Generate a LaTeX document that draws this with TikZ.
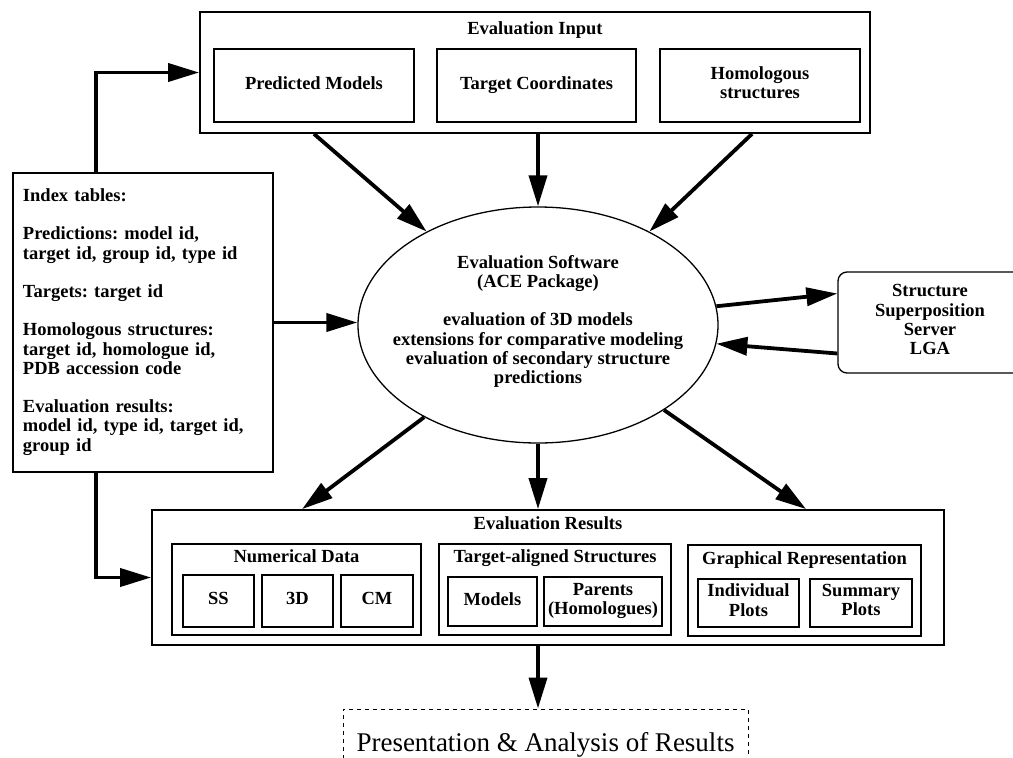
\documentclass[tikz,border=0pt]{standalone}
\usepackage{fontspec}
\setmainfont{Liberation Serif}
\usetikzlibrary{arrows.meta, shapes.geometric, calc}
\frenchspacing

\begin{document}
\begin{tikzpicture}[
    x=1pt, y=-1pt,
    txt/.style={font=\fontsize{18.5}{19.3}\selectfont\bfseries,
                execute at begin node=\strut, execute at end node=\strut},
    outer/.style={draw, line width=1.8pt, inner sep=0pt},
    group/.style={draw, line width=1.3pt, inner sep=0pt},
    box/.style={draw, line width=1.3pt, inner sep=0pt, align=center, txt},
    arrow/.style={-{Triangle[length=31pt, width=18pt]}, line width=3.8pt},
]
\useasboundingbox (0,0) rectangle (1013,758);
\clip (0,0) rectangle (1013,758);

% evaluation input
\node[outer, minimum width=670pt, minimum height=121pt] (inp) at (535,72.5) {};
\node[txt] (inptitle) at ([yshift=-20pt]inp.north) {Evaluation Input};
\node[box, minimum width=200pt, minimum height=73pt] (pm) at (314,85.5) {Predicted Models};
\node[box, minimum width=199pt, minimum height=73pt] (tc) at (536.5,85.5) {Target Coordinates};
\node[box, minimum width=200pt, minimum height=73pt] (hs) at (760,85.5) {Homologous\\structures};

% index tables
\node[outer, minimum width=260pt, minimum height=299pt, text width=240pt, align=left, txt]
    (idx) at (143,322.5) {Index tables:\\[19pt]
    Predictions: model id,\\ target id, group id, type id\\[19pt]
    Targets: target id\\[19pt]
    Homologous structures:\\ target id, homologue id,\\ PDB accession code\\[19pt]
    Evaluation results:\\ model id, type id, target id,\\ group id};

% evaluation software
\node[draw, ellipse, line width=1.3pt, minimum width=360pt, minimum height=236pt] (sw) at (538,325) {};
\node[txt, align=center] (swtext) at (538,322.5) {Evaluation Software\\ (ACE Package)\\[19pt]
    evaluation of 3D models\\ extensions for comparative modeling\\
    evaluation of secondary structure\\ predictions};

% superposition server
\node[box, rounded corners=9pt, minimum width=184pt, minimum height=101pt] (lga) at (930,322.5)
    {Structure\\Superposition\\Server\\LGA};

% evaluation results
\node[outer, minimum width=792pt, minimum height=135pt] (res) at (548,577.5) {};
\node[txt] (restitle) at ([yshift=-17pt]res.north) {Evaluation Results};

\node[group, minimum width=249pt, minimum height=91pt] (nd) at (296.5,589.5) {};
\node[txt] (ndtitle) at ([yshift=-15pt]nd.north) {Numerical Data};
\node[box, minimum width=71pt, minimum height=52pt] (ss) at (218.5,601) {SS};
\node[box, minimum width=71pt, minimum height=52pt] (d3) at (297.5,601) {3D};
\node[box, minimum width=72pt, minimum height=52pt] (cm) at (377,601) {CM};

\node[group, minimum width=232pt, minimum height=91pt] (ta) at (555,589.5) {};
\node[txt] (tatitle) at ([yshift=-15pt]ta.north) {Target-aligned Structures};
\node[box, minimum width=89pt, minimum height=49pt] (mo) at (492.5,601.5) {Models};
\node[box, minimum width=118pt, minimum height=49pt] (pa) at (603,601.5) {Parents\\(Homologues)};

\node[group, minimum width=233pt, minimum height=91pt] (gr) at (804.5,590.5) {};
\node[txt] (grtitle) at ([yshift=-16pt]gr.north) {Graphical Representation};
\node[box, minimum width=101pt, minimum height=48pt] (ip) at (748.5,603) {Individual\\Plots};
\node[box, minimum width=102pt, minimum height=48pt] (sp) at (861,603) {Summary\\Plots};

% presentation
\node[draw, dashed, line width=1pt, dash pattern=on 4pt off 4pt, minimum width=405pt, minimum height=72pt,
    font=\fontsize{27}{30}\selectfont] (pres) at (545.5,745) {Presentation \& Analysis of Results};

% inputs into the software
\draw[arrow] (pm.south |- inp.south) -- (sw.140);
\draw[arrow] (inp.south -| sw.north) -- (sw.north);
\draw[arrow] ([xshift=-8pt]hs.south |- inp.south) -- (sw.40);
\draw[arrow] (idx.east) -- (idx.east -| sw.west);

% index tables feed input and results
\draw[arrow] ([xshift=-47pt]idx.north) |- (inp.west);
\draw[arrow] ([xshift=-47pt]idx.south) |- (res.west);

% superposition round trip
\draw[arrow] (sw.6) -- ([yshift=29pt]lga.west);
\draw[arrow] ([yshift=-31pt]lga.west) -- (sw.354);

% software to results
\draw[arrow] (sw.219) -- ([xshift=151pt]res.north west);
\draw[arrow] (sw.south) -- (sw.south |- res.north);
\draw[arrow] (sw.326) -- ([xshift=655pt]res.north west);

% results to presentation
\draw[arrow] (res.south -| sw.south) -- (pres.north -| sw.south);

\end{tikzpicture}
\end{document}
